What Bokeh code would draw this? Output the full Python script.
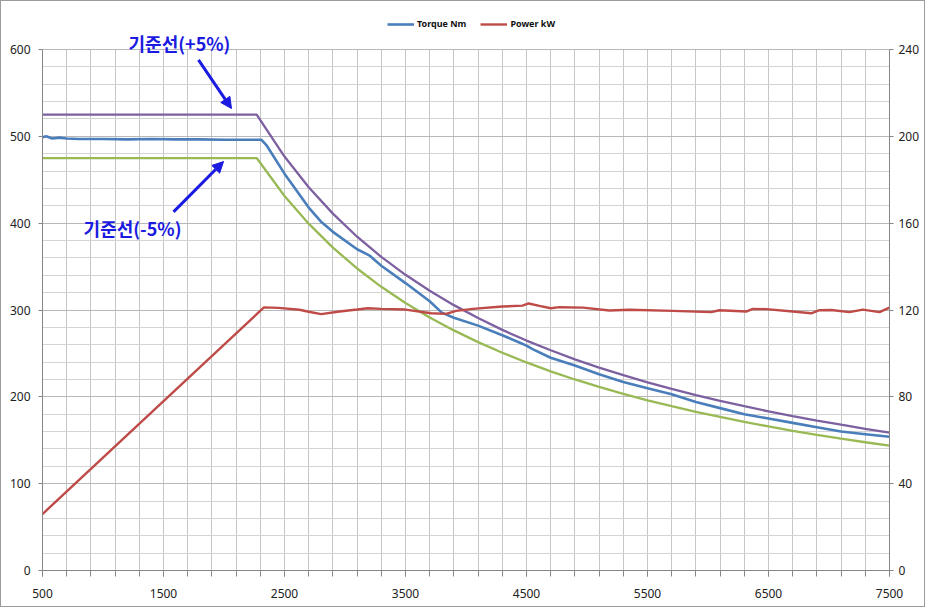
from bokeh.plotting import figure
from bokeh.models import (Range1d, LinearAxis, SingleIntervalTicker, FixedTicker,
                          Legend, LegendItem, Label, Arrow, NormalHead)
from bokeh.embed import file_html
from bokeh.resources import INLINE

# ---------------- data ----------------
rpm_ticks = [500, 1500, 2500, 3500, 4500, 5500, 6500, 7500]
rpm_minor = list(range(500, 7501, 200))

torque_rpm = [500, 530, 580, 640, 700, 800, 1000, 1200, 1400, 1600, 1800, 2000,
              2200, 2310, 2350, 2500, 2700, 2800, 2900, 3100, 3200, 3300, 3500,
              3700, 3800, 3900, 4100, 4300, 4450, 4500, 4550, 4700, 4900, 5100,
              5300, 5500, 5700, 5900, 6100, 6300, 6500, 6700, 6900, 7100, 7300, 7500]
torque_nm = [499, 500, 497.5, 498.5, 497.5, 497, 497, 496.5, 497, 496.5, 496.5, 496,
             496, 496, 490, 457, 418, 402, 390, 370, 363, 351, 331,
             310, 297, 291, 282, 271, 262, 259, 255, 245, 236, 226,
             217, 210, 203, 194, 187, 180, 175, 170, 165, 160, 157, 154]

band_rpm = [500, 2270, 2500, 2700, 2900, 3100, 3300, 3500, 3700, 3900, 4100, 4300,
            4500, 4700, 4900, 5100, 5300, 5500, 5700, 5900, 6100, 6300, 6500,
            6700, 6900, 7100, 7300, 7500]
upper_nm = [525, 525, 476.7, 441.4, 411.0, 384.4, 361.1, 340.5, 322.1, 305.6, 290.7,
            277.1, 264.8, 253.6, 243.2, 233.7, 224.9, 216.7, 209.1, 202.0, 195.4,
            189.2, 183.3, 177.9, 172.7, 167.9, 163.2, 158.9]
lower_nm = [475, 475, 431.3, 399.4, 371.8, 347.8, 326.7, 308.1, 291.4, 276.5, 263.0,
            250.8, 239.6, 229.4, 220.0, 211.4, 203.4, 196.0, 189.2, 182.8, 176.8,
            171.2, 165.9, 160.9, 156.3, 151.9, 147.7, 143.8]

power_rpm = [500, 2330, 2450, 2624, 2700, 2803, 2955, 3100, 3188, 3300, 3500, 3712,
             3836, 3918, 4056, 4300, 4467, 4518, 4607, 4700, 4773, 4966, 5186, 5351,
             5709, 6025, 6095, 6316, 6370, 6481, 6700, 6853, 6921, 7020, 7168, 7280,
             7417, 7500]
power_kw = [26, 121.2, 121.0, 120.1, 119.2, 118.1, 119.3, 120.2, 120.8, 120.5, 120.2,
            118.5, 118.2, 119.6, 120.5, 121.6, 122.0, 123.0, 121.9, 120.8, 121.3,
            121.1, 119.8, 120.1, 119.6, 119.0, 119.9, 119.3, 120.5, 120.4, 119.3,
            118.5, 119.9, 120.0, 119.0, 120.2, 119.0, 121.1]

series_names = ["Torque Nm", "Power kW"]
note_upper = "기준선(+5%)"
note_lower = "기준선(-5%)"

# axis extents: 0-600 Nm (left) and 0-240 kW (right); the frame is taller so that
# the legend and the upper note sit inside it above the 600 line
torque_max = 600
power_max = 240
head_room = 559 / 521

# ---------------- figure ----------------
p = figure(width=925, height=607, output_backend="svg", toolbar_location=None,
           x_range=Range1d(500, 7500), y_range=Range1d(0, torque_max * head_room),
           min_border_left=41, min_border_right=37, min_border_top=10,
           min_border_bottom=38, background_fill_color="white",
           border_fill_color="white")
p.outline_line_color = None
p.styles = {"border": "1px solid #9b9b9b"}
p.extra_y_ranges = {"power": Range1d(0, power_max * head_room)}

tick_font = "Noto Sans"
axis_col = "#868686"

xa = p.xaxis[0]
xa.ticker = FixedTicker(ticks=rpm_ticks, minor_ticks=rpm_minor)
xa.axis_line_color = axis_col
xa.major_tick_line_color = axis_col
xa.minor_tick_line_color = axis_col
xa.major_tick_in = 0
xa.major_tick_out = 6
xa.minor_tick_in = 0
xa.minor_tick_out = 6
xa.major_label_standoff = 12
xa.major_label_text_font = tick_font
xa.major_label_text_font_size = "12px"
xa.major_label_text_color = "#222222"

ya = p.yaxis[0]
ya.ticker = SingleIntervalTicker(interval=100, num_minor_ticks=5)
ya.bounds = (0, torque_max)
ya.axis_line_color = axis_col
ya.major_tick_line_color = axis_col
ya.minor_tick_line_color = None
ya.major_tick_in = 0
ya.major_tick_out = 4
ya.major_label_standoff = 8
ya.major_label_text_font = tick_font
ya.major_label_text_font_size = "12px"
ya.major_label_text_color = "#222222"

ra = LinearAxis(y_range_name="power", ticker=SingleIntervalTicker(interval=40),
                bounds=(0, power_max))
ra.axis_line_color = axis_col
ra.major_tick_line_color = axis_col
ra.minor_tick_line_color = None
ra.major_tick_in = 0
ra.major_tick_out = 4
ra.major_label_standoff = 5
ra.major_label_text_font = tick_font
ra.major_label_text_font_size = "12px"
ra.major_label_text_color = "#222222"
p.add_layout(ra, "right")

p.xgrid.grid_line_color = "#c6c6c6"
p.xgrid.minor_grid_line_color = "#c6c6c6"
p.xgrid.cross_bounds = (0, torque_max)
p.ygrid.grid_line_color = "#b8b8b8"
p.ygrid.minor_grid_line_color = "#d4d4d4"
p.ygrid.bounds = (0, torque_max)

# ---------------- lines ----------------
r_upper = p.line(band_rpm, upper_nm, line_color="#7D60A0", line_width=2.3)
r_lower = p.line(band_rpm, lower_nm, line_color="#98B954", line_width=2.3)
r_torque = p.line(torque_rpm, torque_nm, line_color="#4A7EBB", line_width=2.6)
r_power = p.line(power_rpm, power_kw, line_color="#BE4B48", line_width=2.4,
                 y_range_name="power")

legend = Legend(items=[LegendItem(label=series_names[0], renderers=[r_torque]),
                       LegendItem(label=series_names[1], renderers=[r_power])],
                orientation="horizontal", location=(345, 540),
                label_text_font="Noto Sans", label_text_font_size="9px",
                label_text_font_style="bold", label_text_color="#111111",
                glyph_width=27, glyph_height=10, label_standoff=3, spacing=14,
                padding=2, margin=0, border_line_color=None,
                background_fill_alpha=0, label_height=10)
p.add_layout(legend, "center")

# ---------------- annotations ----------------
note_col = "#1a1ae0"
p.add_layout(Label(x=1632, y=607, text=note_upper, text_align="center",
                   text_baseline="middle", text_color=note_col,
                   text_font="Noto Sans CJK KR", text_font_size="18px",
                   text_font_style="bold"))
p.add_layout(Label(x=1244, y=394, text=note_lower, text_align="center",
                   text_baseline="middle", text_color=note_col,
                   text_font="Noto Sans CJK KR", text_font_size="18px",
                   text_font_style="bold"))
p.add_layout(Arrow(end=NormalHead(size=11, fill_color=note_col, line_color=note_col),
                   x_start=1789, y_start=588, x_end=2062, y_end=532,
                   line_color=note_col, line_width=3))
p.add_layout(Arrow(end=NormalHead(size=11, fill_color=note_col, line_color=note_col),
                   x_start=1583, y_start=413, x_end=1996, y_end=471,
                   line_color=note_col, line_width=3))

open("out.html", "w").write(file_html(p, INLINE))
